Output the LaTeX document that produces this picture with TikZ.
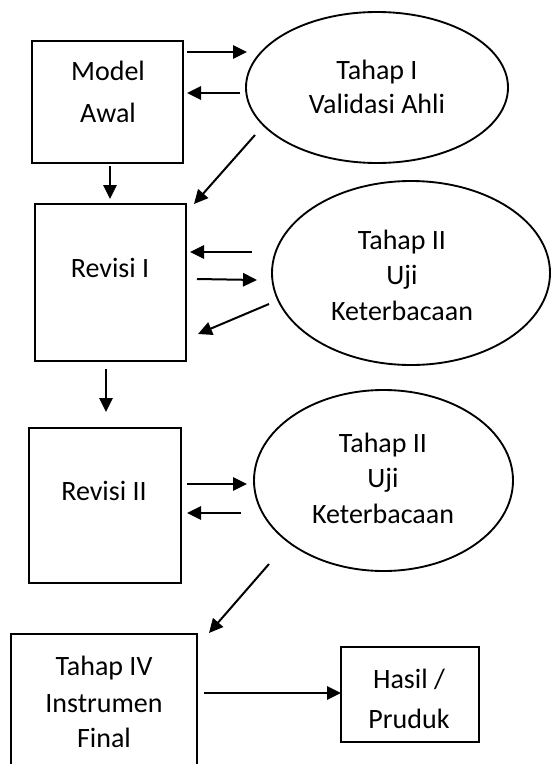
\documentclass[tikz,border=0pt]{standalone}
\usepackage{fontspec}
\setmainfont{Carlito}
\usetikzlibrary{arrows.meta,shapes.geometric}
\begin{document}
\begin{tikzpicture}[x=0.75pt,y=-0.75pt,
  boxshape/.style={draw, line width=1.4pt, rectangle, inner sep=0pt},
  ovalshape/.style={draw, line width=1.4pt, ellipse, inner sep=0pt},
  txt/.style={anchor=base, inner sep=0pt, font=\fontsize{21}{25}\selectfont},
  arr/.style={line width=1.5pt, -{Triangle[length=10.5pt,width=10pt]}}]
\clip (0,0) rectangle (553,764);
\fill[white] (0,0) rectangle (553,764);
% boxes
\node[boxshape, minimum width=113.25pt, minimum height=91.5pt] (ma) at (107.5,102) {};
\node[boxshape, minimum width=113.25pt, minimum height=117.75pt] (r1) at (110.5,282.5) {};
\node[boxshape, minimum width=114pt, minimum height=116.25pt] (r2) at (105,505.5) {};
\node[boxshape, minimum width=139.5pt, minimum height=117pt] (t4) at (104,712) {};
\node[boxshape, minimum width=103.5pt, minimum height=71.25pt] (hp) at (410,694.5) {};
% ellipses
\node[ovalshape, minimum width=196.5pt, minimum height=113.25pt] (e1) at (377,87.5) {};
\node[ovalshape, minimum width=208.5pt, minimum height=138pt] (e2) at (411,273) {};
\node[ovalshape, minimum width=194.25pt, minimum height=135.75pt] (e3) at (383.5,480.5) {};
% texts
\node[txt] (maA) at (108,80) {Model};
\node[txt] (maB) at (108,122) {Awal};
\node[txt] (e1A) at (377,79) {Tahap I};
\node[txt] (e1B) at (377,113) {Validasi Ahli};
\node[txt] (r1A) at (110,277) {Revisi I};
\node[txt] (e2A) at (402,249) {Tahap II};
\node[txt] (e2B) at (402,284) {Uji};
\node[txt] (e2C) at (402,320) {Keterbacaan};
\node[txt] (r2A) at (104,500) {Revisi II};
\node[txt] (e3A) at (383,452) {Tahap II};
\node[txt] (e3B) at (383,487) {Uji};
\node[txt] (e3C) at (383,523) {Keterbacaan};
\node[txt] (t4A) at (104,675) {Tahap IV};
\node[txt] (t4B) at (104,712) {Instrumen};
\node[txt] (t4C) at (104,747) {Final};
\node[txt] (hpA) at (409,688) {Hasil /};
\node[txt] (hpB) at (409,728) {Pruduk};
% arrow end points
\coordinate (a1s) at (187,52);  \coordinate (a1e) at (247,52);
\coordinate (a2s) at (240,93);  \coordinate (a2e) at (187,93);
\coordinate (a3s) at (255,135); \coordinate (a3e) at (194,204);
\coordinate (a4s) at (110,166); \coordinate (a4e) at (110,199);
\coordinate (a5s) at (252,252); \coordinate (a5e) at (190,252);
\coordinate (a6s) at (197,279); \coordinate (a6e) at (257,280);
\coordinate (a7s) at (269,304); \coordinate (a7e) at (198,334);
\coordinate (a8s) at (106,369); \coordinate (a8e) at (106,412);
\coordinate (a9s) at (187,484); \coordinate (a9e) at (247,484);
\coordinate (a10s) at (241,513); \coordinate (a10e) at (187,513);
\coordinate (a11s) at (269,564); \coordinate (a11e) at (209,633);
\coordinate (a12s) at (204,693); \coordinate (a12e) at (341,693);
\draw[arr] (a1s) -- (a1e);
\draw[arr] (a2s) -- (a2e);
\draw[arr] (a3s) -- (a3e);
\draw[arr] (a4s) -- (a4e);
\draw[arr] (a5s) -- (a5e);
\draw[arr] (a6s) -- (a6e);
\draw[arr] (a7s) -- (a7e);
\draw[arr] (a8s) -- (a8e);
\draw[arr] (a9s) -- (a9e);
\draw[arr] (a10s) -- (a10e);
\draw[arr] (a11s) -- (a11e);
\draw[arr] (a12s) -- (a12e);
\end{tikzpicture}
\end{document}
